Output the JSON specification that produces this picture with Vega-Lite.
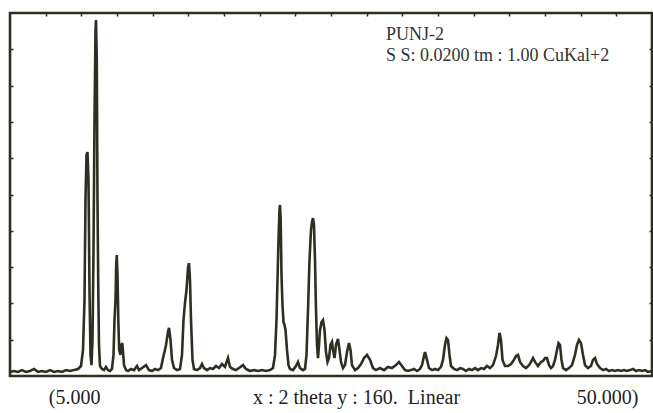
{
  "$schema": "https://vega.github.io/schema/vega-lite/v6.json",
  "width": 642,
  "height": 363,
  "autosize": {"type": "none"},
  "padding": {"left": 10, "top": 13, "right": 1, "bottom": 37},
  "background": "white",
  "config": {"view": {"stroke": "#2e2e22", "strokeWidth": 2.6}, "axis": {"grid": false}},
  "datasets": {
    "xrd": [
      {"t":5.000,"c":1.8},{"t":5.280,"c":2.2},{"t":5.561,"c":1.8},{"t":5.841,"c":2.6},{"t":6.121,"c":1.8},{"t":6.402,"c":2.2},{"t":6.682,"c":3.1},{"t":6.963,"c":1.8},{"t":7.243,"c":2.2},{"t":7.523,"c":1.8},{"t":7.804,"c":2.6},{"t":8.084,"c":1.8},{"t":8.364,"c":2.2},{"t":8.645,"c":1.8},{"t":8.925,"c":2.6},{"t":9.206,"c":2.2},{"t":9.486,"c":2.6},{"t":9.766,"c":3.1},
      {"t":9.977,"c":4.4},{"t":10.117,"c":11.5},{"t":10.222,"c":33.5},{"t":10.292,"c":77.6},{"t":10.362,"c":97.4},{"t":10.432,"c":98.7},{"t":10.502,"c":86.4},{"t":10.572,"c":37.9},{"t":10.642,"c":9.3},{"t":10.713,"c":4.8},{"t":10.783,"c":15.9},{"t":10.853,"c":55.5},{"t":10.923,"c":112.8},{"t":10.993,"c":152.5},{"t":11.028,"c":156.9},{"t":11.084,"c":139.3},{"t":11.133,"c":77.6},{"t":11.189,"c":37.9},{"t":11.238,"c":13.7},{"t":11.308,"c":4.4},
      {"t":11.449,"c":3.1},{"t":11.589,"c":2.6},{"t":11.729,"c":4.0},{"t":11.869,"c":2.6},{"t":12.009,"c":2.2},{"t":12.149,"c":3.1},{"t":12.255,"c":9.3},{"t":12.325,"c":24.7},{"t":12.395,"c":33.5},{"t":12.444,"c":48.9},{"t":12.486,"c":53.3},{"t":12.535,"c":44.5},{"t":12.591,"c":24.7},{"t":12.654,"c":11.5},{"t":12.745,"c":9.3},{"t":12.815,"c":13.7},{"t":12.871,"c":14.5},{"t":12.921,"c":10.6},{"t":12.991,"c":4.8},
      {"t":13.131,"c":2.6},{"t":13.271,"c":2.2},{"t":13.481,"c":3.1},{"t":13.692,"c":2.6},{"t":13.902,"c":4.4},{"t":14.042,"c":2.6},{"t":14.252,"c":3.5},{"t":14.533,"c":4.8},{"t":14.743,"c":2.6},{"t":14.953,"c":2.2},{"t":15.163,"c":3.1},{"t":15.374,"c":2.6},{"t":15.584,"c":3.5},
      {"t":15.724,"c":7.9},{"t":15.829,"c":10.6},{"t":15.934,"c":13.7},{"t":16.075,"c":19.4},{"t":16.145,"c":21.2},{"t":16.250,"c":15.9},{"t":16.355,"c":7.1},{"t":16.495,"c":3.5},{"t":16.706,"c":2.6},{"t":16.916,"c":3.1},
      {"t":17.056,"c":9.3},{"t":17.161,"c":24.7},{"t":17.266,"c":32.2},{"t":17.371,"c":37.9},{"t":17.477,"c":47.6},{"t":17.547,"c":49.8},{"t":17.617,"c":42.3},{"t":17.687,"c":24.7},{"t":17.792,"c":7.1},{"t":17.897,"c":3.1},
      {"t":18.107,"c":2.6},{"t":18.318,"c":3.5},{"t":18.458,"c":5.3},{"t":18.598,"c":3.5},{"t":18.808,"c":2.6},{"t":19.019,"c":3.5},{"t":19.229,"c":3.1},{"t":19.439,"c":4.4},{"t":19.649,"c":3.5},{"t":19.860,"c":5.3},{"t":20.070,"c":4.0},{"t":20.280,"c":7.9},{"t":20.420,"c":4.0},{"t":20.631,"c":3.1},{"t":20.841,"c":2.6},{"t":21.051,"c":3.5},{"t":21.332,"c":4.8},{"t":21.542,"c":3.1},
      {"t":21.822,"c":2.2},{"t":22.103,"c":2.6},{"t":22.383,"c":2.2},{"t":22.663,"c":2.6},{"t":22.944,"c":2.2},{"t":23.224,"c":2.6},{"t":23.434,"c":3.5},
      {"t":23.575,"c":9.3},{"t":23.680,"c":24.7},{"t":23.750,"c":42.3},{"t":23.820,"c":59.9},{"t":23.890,"c":73.2},{"t":23.925,"c":75.4},{"t":23.974,"c":68.8},{"t":24.030,"c":44.5},{"t":24.100,"c":31.3},{"t":24.170,"c":23.8},{"t":24.241,"c":22.5},{"t":24.311,"c":20.3},{"t":24.416,"c":11.5},{"t":24.521,"c":4.8},{"t":24.626,"c":3.1},
      {"t":24.836,"c":2.6},{"t":25.047,"c":4.4},{"t":25.187,"c":6.2},{"t":25.327,"c":3.5},{"t":25.537,"c":2.6},{"t":25.677,"c":3.1},
      {"t":25.783,"c":9.3},{"t":25.888,"c":29.1},{"t":25.993,"c":51.1},{"t":26.098,"c":64.4},{"t":26.168,"c":67.9},{"t":26.238,"c":69.6},{"t":26.308,"c":66.6},{"t":26.379,"c":51.1},{"t":26.449,"c":29.1},{"t":26.519,"c":13.7},{"t":26.589,"c":7.9},{"t":26.659,"c":13.7},{"t":26.729,"c":20.3},{"t":26.834,"c":23.8},{"t":26.939,"c":24.7},{"t":27.044,"c":20.3},{"t":27.149,"c":10.6},{"t":27.255,"c":6.2},
      {"t":27.360,"c":7.9},{"t":27.465,"c":13.7},{"t":27.570,"c":15.0},{"t":27.640,"c":11.5},{"t":27.745,"c":7.9},{"t":27.850,"c":13.7},{"t":27.991,"c":16.3},{"t":28.096,"c":11.5},{"t":28.201,"c":6.2},{"t":28.341,"c":3.5},{"t":28.481,"c":4.8},{"t":28.621,"c":10.6},{"t":28.762,"c":14.5},{"t":28.867,"c":11.5},{"t":28.972,"c":4.8},
      {"t":29.182,"c":2.6},{"t":29.392,"c":3.5},{"t":29.603,"c":5.3},{"t":29.813,"c":7.9},{"t":30.023,"c":9.3},{"t":30.234,"c":7.1},{"t":30.444,"c":3.5},{"t":30.654,"c":2.6},{"t":30.934,"c":3.5},{"t":31.215,"c":2.6},{"t":31.495,"c":4.0},{"t":31.776,"c":3.5},{"t":32.056,"c":4.8},{"t":32.266,"c":6.2},{"t":32.477,"c":4.4},{"t":32.687,"c":2.6},
      {"t":32.897,"c":2.2},{"t":33.107,"c":2.6},{"t":33.318,"c":3.1},{"t":33.528,"c":2.2},{"t":33.738,"c":3.1},{"t":33.879,"c":4.8},{"t":34.019,"c":8.8},{"t":34.089,"c":10.6},{"t":34.229,"c":7.1},{"t":34.369,"c":3.5},{"t":34.579,"c":2.6},{"t":34.790,"c":3.1},{"t":35.000,"c":2.6},
      {"t":35.210,"c":4.0},{"t":35.350,"c":7.1},{"t":35.490,"c":13.7},{"t":35.596,"c":16.7},{"t":35.701,"c":15.9},{"t":35.806,"c":9.3},{"t":35.911,"c":4.4},{"t":36.121,"c":3.1},
      {"t":36.332,"c":2.6},{"t":36.542,"c":3.5},{"t":36.752,"c":3.1},{"t":36.963,"c":2.2},{"t":37.173,"c":3.1},{"t":37.383,"c":2.6},{"t":37.593,"c":3.5},{"t":37.804,"c":2.6},{"t":38.014,"c":3.5},{"t":38.224,"c":3.1},{"t":38.435,"c":4.4},{"t":38.645,"c":3.5},{"t":38.855,"c":4.8},
      {"t":39.065,"c":8.8},{"t":39.206,"c":13.7},{"t":39.311,"c":19.0},{"t":39.416,"c":15.9},{"t":39.521,"c":7.1},{"t":39.696,"c":4.4},{"t":39.906,"c":4.4},{"t":40.117,"c":5.3},{"t":40.327,"c":7.1},{"t":40.467,"c":8.8},{"t":40.607,"c":9.3},{"t":40.748,"c":6.2},{"t":40.958,"c":4.4},{"t":41.168,"c":3.5},
      {"t":41.379,"c":4.8},{"t":41.519,"c":6.2},{"t":41.659,"c":7.9},{"t":41.799,"c":6.2},{"t":42.009,"c":4.4},{"t":42.220,"c":6.2},{"t":42.360,"c":6.6},{"t":42.500,"c":7.9},{"t":42.640,"c":7.9},{"t":42.780,"c":4.8},{"t":42.921,"c":3.5},{"t":43.061,"c":4.4},{"t":43.201,"c":7.1},{"t":43.341,"c":11.5},{"t":43.446,"c":14.5},{"t":43.551,"c":13.7},{"t":43.657,"c":7.1},{"t":43.762,"c":3.5},
      {"t":43.972,"c":2.6},{"t":44.182,"c":3.5},{"t":44.393,"c":4.8},{"t":44.603,"c":9.3},{"t":44.743,"c":13.7},{"t":44.883,"c":15.9},{"t":45.023,"c":14.5},{"t":45.164,"c":9.3},{"t":45.304,"c":4.8},{"t":45.514,"c":3.5},{"t":45.724,"c":4.4},{"t":45.864,"c":7.1},{"t":46.005,"c":7.9},{"t":46.145,"c":5.3},{"t":46.355,"c":3.5},
      {"t":46.565,"c":2.6},{"t":46.776,"c":3.1},{"t":46.986,"c":2.2},{"t":47.196,"c":2.6},{"t":47.407,"c":2.2},{"t":47.617,"c":2.6},{"t":47.827,"c":2.2},{"t":48.037,"c":2.6},{"t":48.248,"c":2.2},{"t":48.458,"c":2.6},{"t":48.668,"c":3.1},{"t":48.879,"c":2.2},{"t":49.089,"c":2.6},{"t":49.299,"c":2.2},{"t":49.509,"c":2.6},{"t":49.720,"c":1.8},{"t":50.000,"c":2.2}
    ],
    "notes": [
      {"t": 31.36, "c": 150.2, "label": "PUNJ-2"},
      {"t": 31.36, "c": 141.0, "label": "S S: 0.0200 tm : 1.00 CuKal+2"}
    ]
  },
  "resolve": {"axis": {"x": "independent", "y": "independent"}},
  "layer": [
    {
      "data": {"name": "xrd"},
      "mark": {"type": "line", "color": "#2e2e22", "strokeWidth": 2.6, "clip": true},
      "encoding": {
        "x": {
          "field": "t", "type": "quantitative",
          "scale": {"domain": [5, 50], "nice": false, "zero": false},
          "axis": {
            "orient": "bottom", "title": null, "domain": false, "ticks": false,
            "values": [9.49, 29.25, 46.85],
            "labelExpr": "datum.value < 20 ? '(5.000' : (datum.value < 40 ? 'x : 2 theta y : 160.\u00a0 Linear' : '50.000)')",
            "labelFont": "Liberation Serif", "labelFontSize": 20, "labelColor": "#222222", "labelLimit": 0,
            "labelPadding": 21, "labelBaseline": "middle", "labelFlush": false, "labelOverlap": false, "labelBound": false
          }
        },
        "y": {
          "field": "c", "type": "quantitative",
          "scale": {"domain": [0, 160], "nice": false, "zero": true},
          "axis": {
            "orient": "left", "title": null, "domain": false, "labels": false,
            "values": [16, 32, 48, 64, 80, 96, 112, 128, 144],
            "tickSize": -3, "tickColor": "#2e2e22", "tickWidth": 1.5
          }
        }
      }
    },
    {
      "data": {"name": "notes"},
      "mark": {"type": "text", "align": "left", "baseline": "middle", "font": "Liberation Serif", "fontSize": 18, "color": "#333333"},
      "encoding": {
        "x": {
          "field": "t", "type": "quantitative",
          "axis": {
            "orient": "top", "title": null, "domain": false, "labels": false,
            "values": [7.5, 10, 12.5, 15, 17.5, 20, 22.5, 25, 27.5, 30, 32.5, 35, 37.5, 40, 42.5, 45, 47.5],
            "tickSize": -3, "tickColor": "#2e2e22", "tickWidth": 1.5
          }
        },
        "y": {
          "field": "c", "type": "quantitative",
          "axis": {
            "orient": "right", "title": null, "domain": false, "labels": false,
            "values": [16, 32, 48, 64, 80, 96, 112, 128, 144],
            "tickSize": -3, "tickColor": "#2e2e22", "tickWidth": 1.5
          }
        },
        "text": {"field": "label"}
      }
    }
  ]
}
